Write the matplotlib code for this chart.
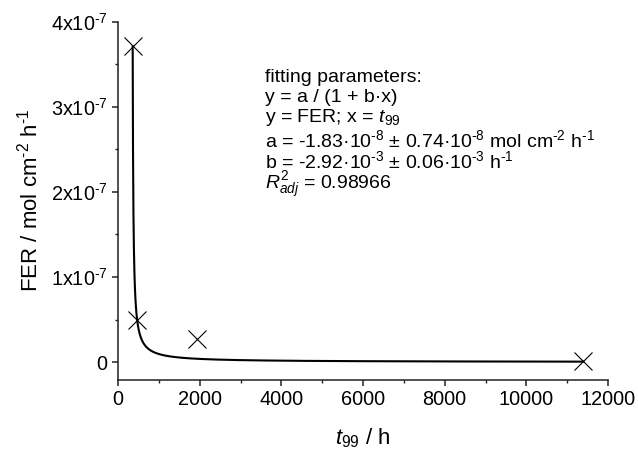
import numpy as np
import matplotlib
matplotlib.use("Agg")
import matplotlib.pyplot as plt
from matplotlib.ticker import FixedLocator, MultipleLocator, FuncFormatter

plt.rcParams['font.family'] = ['Liberation Sans', 'DejaVu Sans']
plt.rcParams['mathtext.fontset'] = 'custom'
plt.rcParams['mathtext.rm'] = 'Liberation Sans'
plt.rcParams['mathtext.it'] = 'Liberation Sans:italic'
plt.rcParams['mathtext.default'] = 'regular'

# measured data: t99 (h) vs. FER (mol cm^-2 h^-1)
t99 = [360, 457, 1926, 11390]
fer = [3.71e-7, 0.50e-7, 0.275e-7, 0.01e-7]

# hyperbolic fit y = a / (1 + b*x)
fit_a = -1.83e-8
fit_b = -2.92e-3

x_ticks = [0, 2000, 4000, 6000, 8000, 10000, 12000]
y_ticks = [0, 1e-7, 2e-7, 3e-7, 4e-7]
y_tick_labels = ['0', '1x10$^{\\text{-}7}$', '2x10$^{\\text{-}7}$',
                 '3x10$^{\\text{-}7}$', '4x10$^{\\text{-}7}$']

fig = plt.figure(figsize=(6.38, 4.49), dpi=100)
ax = fig.add_axes([118/638, 1 - 380/449, (608 - 118)/638, (380 - 21.7)/449])

# fit curve from where it reaches the first data point to the last measurement
x_start = (fit_a / fer[0] - 1) / fit_b
xs = np.geomspace(x_start, t99[-1], 600)
ax.plot(xs, fit_a / (1 + fit_b * xs), color='black', lw=1.5, zorder=2)
ax.plot(t99, fer, linestyle='none', marker='x', color='black',
        markersize=13, markeredgewidth=0.8, zorder=3)

ax.set_xlim(0, 12000)
ax.set_ylim(-0.21e-7, 4e-7)
ax.xaxis.set_major_locator(FixedLocator(x_ticks))
ax.xaxis.set_minor_locator(MultipleLocator(1000))
ax.yaxis.set_major_locator(FixedLocator(y_ticks))
ax.yaxis.set_minor_locator(MultipleLocator(0.5e-7))
ax.yaxis.set_major_formatter(FuncFormatter(
    lambda v, p: y_tick_labels[min(range(len(y_ticks)), key=lambda i: abs(y_ticks[i] - v))]))

for s in ['top', 'right']:
    ax.spines[s].set_visible(False)
for s in ['left', 'bottom']:
    ax.spines[s].set_linewidth(1.1)
    ax.spines[s].set_color('#222222')
ax.tick_params(which='major', direction='out', length=4.5, width=1.1, labelsize=14.3, pad=3, color='#222222')
ax.tick_params(which='minor', direction='out', length=2.5, width=1.0, color='#222222')

ax.set_ylabel('FER / mol cm$^{\\text{-}2}$ h$^{\\text{-}1}$', fontsize=16, labelpad=6)
ax.set_xlabel('$\\mathit{t}_{99}$ / h', fontsize=16, labelpad=12)

# fit summary
fs = 14
lines = [
    (75, 'fitting parameters:'),
    (96, 'y = a / (1 + b·x)'),
    (115, 'y = FER; x = $\\mathit{t}_{\\mathit{99}}$'),
    (138, 'a = -1.83·10$^{\\text{-}8}$ ± 0.74·10$^{\\text{-}8}$ mol cm$^{\\text{-}2}$ h$^{\\text{-}1}$'),
    (159, 'b = -2.92·10$^{\\text{-}3}$ ± 0.06·10$^{\\text{-}3}$ h$^{\\text{-}1}$'),
    (179, '$\\mathit{R}^{2}_{\\mathit{adj}}$ = 0.98966'),
]
for ypix, txt in lines:
    fig.text(265/638, 1 - ypix/449, txt, fontsize=fs, ha='left', va='center_baseline')

fig.savefig('out.png', dpi=100)
